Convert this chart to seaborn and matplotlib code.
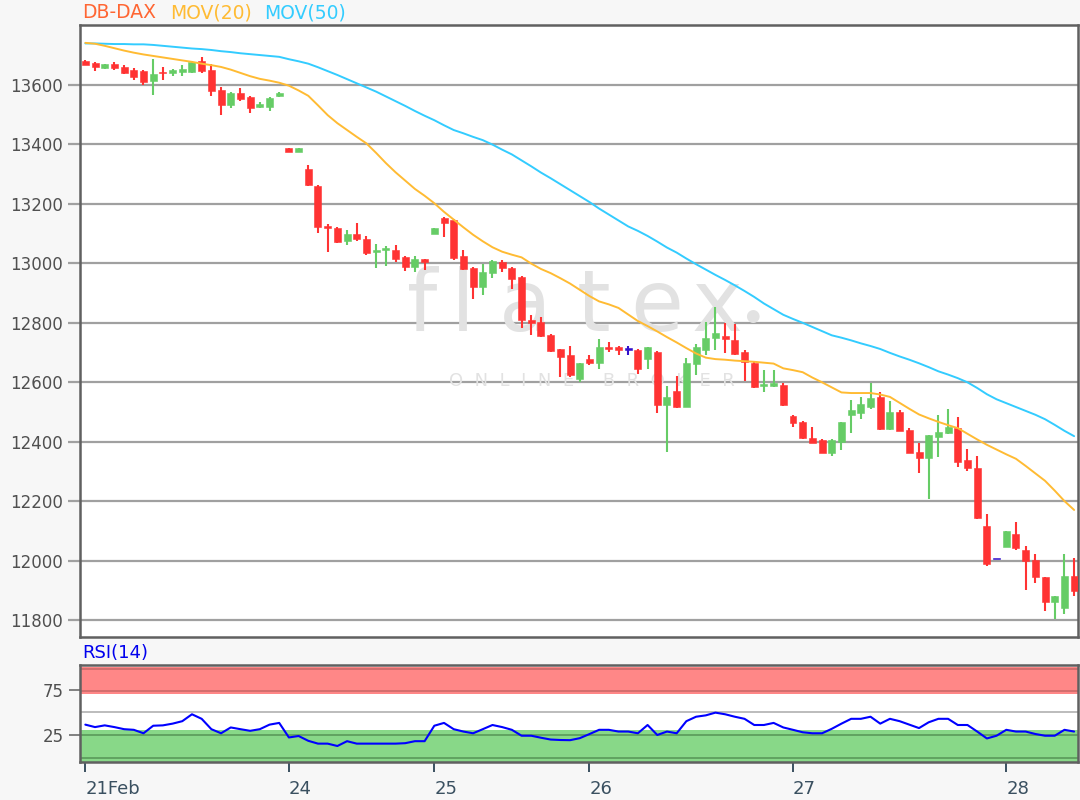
import numpy as np
import pandas as pd
import matplotlib
matplotlib.use("Agg")
import matplotlib.pyplot as plt
import seaborn as sns

# hourly-ish candles, 21 Feb - 28 Feb
opens = [13680, 13671, 13655, 13668, 13660, 13650, 13645, 13612, 13643, 13638,
         13641, 13643, 13680, 13650, 13583, 13532, 13570, 13557, 13526, 13526,
         13560, 13387, 13374, 13315, 13259, 13124, 13117, 13075, 13098, 13080,
         13036, 13044, 13044, 13019, 12988, 13012, 13097, 13150, 13144, 13024,
         12982, 12918, 12968, 13004, 12984, 12952, 12808, 12803, 12758, 12710,
         12691, 12609, 12676, 12665, 12717, 12717, 12711, 12708, 12676, 12702,
         12523, 12569, 12517, 12661, 12708, 12747, 12755, 12741, 12702, 12665,
         12588, 12587, 12590, 12486, 12467, 12413, 12405, 12363, 12400, 12489,
         12497, 12517, 12549, 12441, 12500, 12439, 12366, 12344, 12416, 12428,
         12445, 12338, 12310, 12116, 12008, 12047, 12090, 12036, 12002, 11944,
         11862, 11840, 11948]
highs = [13683, 13674, 13669, 13675, 13664, 13655, 13650, 13686, 13660, 13652,
         13664, 13680, 13692, 13669, 13590, 13575, 13589, 13560, 13540, 13558,
         13575, 13388, 13388, 13330, 13262, 13131, 13120, 13110, 13134, 13090,
         13064, 13058, 13060, 13025, 13022, 13015, 13117, 13156, 13148, 13043,
         12985, 12997, 13010, 13010, 12987, 12955, 12825, 12817, 12762, 12712,
         12720, 12663, 12690, 12744, 12733, 12722, 12720, 12712, 12718, 12705,
         12587, 12620, 12680, 12727, 12803, 12851, 12797, 12795, 12708, 12672,
         12640, 12640, 12596, 12488, 12470, 12448, 12410, 12407, 12467, 12540,
         12548, 12596, 12568, 12535, 12505, 12446, 12394, 12422, 12489, 12508,
         12482, 12374, 12351, 12157, 12008, 12100, 12131, 12049, 12022, 11946,
         11881, 12022, 12008]
lows = [13665, 13646, 13653, 13648, 13635, 13614, 13600, 13565, 13615, 13628,
        13630, 13640, 13640, 13560, 13498, 13520, 13545, 13505, 13522, 13512,
        13558, 13373, 13373, 13260, 13101, 13038, 13067, 13060, 13074, 13026,
        12983, 12990, 13004, 12974, 12970, 12978, 13097, 13089, 13010, 12978,
        12878, 12893, 12950, 12970, 12912, 12781, 12758, 12750, 12700, 12618,
        12618, 12600, 12658, 12643, 12700, 12690, 12690, 12628, 12645, 12497,
        12366, 12512, 12515, 12623, 12690, 12708, 12697, 12690, 12605, 12581,
        12568, 12584, 12520, 12450, 12408, 12394, 12360, 12350, 12372, 12430,
        12475, 12510, 12440, 12440, 12434, 12360, 12295, 12206, 12349, 12425,
        12316, 12302, 12140, 11980, 12008, 12045, 12035, 11901, 11924, 11831,
        11802, 11820, 11880]
closes = [13667, 13660, 13668, 13656, 13640, 13625, 13608, 13636, 13638, 13648,
          13653, 13677, 13645, 13578, 13532, 13570, 13552, 13521, 13536, 13554,
          13571, 13374, 13387, 13263, 13122, 13119, 13072, 13098, 13080, 13033,
          13043, 13049, 13012, 12988, 13012, 13002, 13117, 13136, 13016, 12980,
          12918, 12971, 13007, 12982, 12945, 12808, 12800, 12755, 12705, 12685,
          12624, 12663, 12664, 12717, 12710, 12707, 12711, 12643, 12717, 12523,
          12549, 12515, 12663, 12717, 12747, 12764, 12744, 12694, 12668, 12584,
          12591, 12598, 12523, 12463, 12411, 12396, 12363, 12405, 12467, 12506,
          12526, 12545, 12441, 12500, 12436, 12363, 12344, 12422, 12433, 12448,
          12332, 12310, 12142, 11988, 12008, 12099, 12041, 12000, 11946, 11862,
          11881, 11948, 11896]

ma20 = [13740, 13737, 13730, 13722, 13714, 13707, 13701, 13696, 13691, 13686,
        13681, 13676, 13670, 13665, 13659, 13650, 13639, 13628, 13619, 13613,
        13606, 13596, 13580, 13562, 13530, 13497, 13470, 13447, 13424, 13402,
        13370, 13336, 13305, 13277, 13249, 13226, 13201, 13172, 13146, 13120,
        13095, 13073, 13053, 13038, 13028, 13019, 12998, 12980, 12966, 12949,
        12931, 12910, 12889, 12871, 12861, 12849, 12827, 12805, 12788, 12770,
        12751, 12733, 12714, 12696, 12682, 12677, 12675, 12672, 12670, 12668,
        12665, 12662, 12646, 12640, 12633, 12615, 12599, 12582, 12565, 12563,
        12563, 12563, 12558, 12550, 12530, 12510, 12491, 12478, 12466, 12455,
        12445, 12426, 12407, 12389, 12373, 12357, 12342, 12318, 12293, 12268,
        12235, 12200, 12170]
ma50 = [13738, 13738, 13737, 13736, 13736, 13735, 13735, 13733, 13730, 13727,
        13724, 13721, 13719, 13716, 13712, 13709, 13705, 13702, 13699, 13696,
        13693, 13685, 13678, 13670, 13658, 13645, 13632, 13618, 13604, 13590,
        13576, 13560, 13544, 13528, 13511, 13495, 13480, 13463, 13447, 13436,
        13424, 13413, 13398, 13381, 13365, 13345, 13325, 13304, 13285, 13265,
        13245, 13225, 13205, 13183, 13163, 13143, 13123, 13108, 13091, 13072,
        13052, 13035, 13015, 12996, 12978, 12960, 12943, 12925, 12906, 12886,
        12864, 12845, 12826, 12812, 12799, 12785, 12771, 12757, 12749, 12740,
        12730, 12721, 12711, 12698, 12686, 12675, 12663, 12650, 12636, 12625,
        12613, 12599, 12580, 12559, 12542, 12529, 12516, 12503, 12490, 12475,
        12456, 12436, 12418]
rsi = [36.4, 33.7, 35.6, 33.7, 31.4, 30.7, 26.9, 35.2, 35.6, 37.5,
       40.2, 47.8, 42.8, 31.4, 26.9, 33.3, 31.4, 29.6, 31.4, 36.4,
       38.3, 22.3, 23.9, 18.6, 15.5, 15.5, 12.9, 18.2, 15.5, 15.5,
       15.5, 15.5, 15.5, 16.0, 18.2, 18.2, 35.2, 38.3, 31.4, 28.8,
       26.9, 31.4, 36.0, 33.7, 30.7, 24.2, 24.2, 22.0, 20.0, 19.5,
       19.3, 21.5, 26.0, 30.7, 30.7, 28.8, 28.8, 26.9, 36.0, 25.0,
       28.8, 26.9, 40.2, 45.1, 46.6, 49.6, 47.8, 45.1, 42.8, 36.0,
       36.0, 38.3, 33.3, 30.7, 28.0, 26.9, 26.9, 31.8, 37.5, 42.8,
       42.8, 45.1, 37.5, 42.8, 40.2, 36.4, 32.6, 39.0, 42.8, 42.8,
       36.0, 36.0, 28.8, 21.2, 24.2, 30.7, 28.8, 28.8, 26.1, 24.2,
       24.2, 30.7, 28.8]

day_ticks = [0, 21, 36, 52, 73, 95]
day_labels = ["21Feb", "24", "25", "26", "27", "28"]
price_ticks = [11800, 12000, 12200, 12400, 12600, 12800, 13000, 13200, 13400, 13600]

df = pd.DataFrame({"i": np.arange(len(opens)), "open": opens, "high": highs,
                   "low": lows, "close": closes, "ma20": ma20, "ma50": ma50, "rsi": rsi})

def candle_color(o, c):
    if c > o:
        return "#66cc66"
    if c < o:
        return "#ff3333"
    return "#3311cc"

df["color"] = [candle_color(o, c) for o, c in zip(df["open"], df["close"])]

sns.set_style("white")
plt.rcParams["font.family"] = ["DejaVu Sans"]

fig = plt.figure(figsize=(10.8, 8), dpi=100, facecolor="#f7f7f7")
W, H = 1080, 800
ax = fig.add_axes([80 / W, 1 - 637 / H, 998 / W, 612 / H])
ax2 = fig.add_axes([80 / W, 1 - 762 / H, 998 / W, 97 / H])

def fx(px):
    # pixel column -> axes fraction of the price panel
    return (px - 80) / 998

# --- price panel ---
ax.set_facecolor("white")
for yv in price_ticks:
    ax.axhline(yv, color="#a0a0a0", lw=1.6, zorder=0)

# watermark, letter by letter (it is widely spaced)
wm = "#e2e2e2"
for ch, px in zip("flatex", [422, 463, 525, 594, 657, 717]):
    ax.text(fx(px), 0.50, ch, transform=ax.transAxes, ha="center", va="baseline",
            fontsize=62, color=wm, zorder=0.5)
ax.text(fx(752), 0.525, "\u25CF", transform=ax.transAxes, ha="center", va="center",
        fontsize=12, color=wm, zorder=0.5)
ax.text(fx(592), 0.418, "O  N  L  I  N  E     B  R  O  K  E  R", transform=ax.transAxes,
        ha="center", va="center", fontsize=13, color=wm, zorder=0.5)

ax.vlines(df["i"], df["low"], df["high"], colors=df["color"], lw=1.5, zorder=2)
body_lo = np.minimum(df["open"], df["close"])
body_h = np.maximum(np.abs(df["close"] - df["open"]), 4)
ax.bar(df["i"], body_h, bottom=body_lo - np.where(df["close"] == df["open"], 2, 0),
       width=0.72, color=df["color"], edgecolor=df["color"], lw=0.4, zorder=3)

sns.lineplot(data=df, x="i", y="ma50", ax=ax, color="#33ccff", lw=1.4, zorder=4)
sns.lineplot(data=df, x="i", y="ma20", ax=ax, color="#ffbb33", lw=1.4, zorder=4)

ax.set_xlim(-0.55, 102.4)
ax.set_ylim(11743, 13800)
ax.set_yticks(price_ticks)
ax.set_yticklabels([str(v) for v in price_ticks])
ax.set_xticks([])
ax.set_xlabel("")
ax.set_ylabel("")
ax.tick_params(axis="y", length=9, width=1.6, color="#a0a0a0", labelsize=12,
               labelcolor="#505050", pad=3, left=True)
for s in ax.spines.values():
    s.set_color("#606060")
    s.set_linewidth(1.8)

fig.text(82 / W, 1 - 13 / H, "DB-DAX", color="#ff6633", fontsize=13.5, va="center")
fig.text(170 / W, 1 - 13 / H, "MOV(20)", color="#ffbb33", fontsize=13.5, va="center")
fig.text(264 / W, 1 - 13 / H, "MOV(50)", color="#33ccff", fontsize=13.5, va="center")

# --- RSI panel ---
ax2.set_facecolor("white")
ax2.axhspan(70, 100, color="#ff8787", lw=0, zorder=0)
ax2.axhspan(-6, 30, color="#88d888", lw=0, zorder=0)
ax2.axhline(98, color="#cc6a6a", lw=1.2, zorder=1)
ax2.axhline(73, color="#cc6a6a", lw=1.2, zorder=1)
ax2.axhline(50, color="#b0b0b0", lw=1.2, zorder=1)
ax2.axhline(25, color="#5a9a5a", lw=1.2, zorder=1)
ax2.axhline(0, color="#5a9a5a", lw=1.2, zorder=1)
sns.lineplot(data=df, x="i", y="rsi", ax=ax2, color="#0000ff", lw=1.5, zorder=3)
ax2.set_xlim(-0.55, 102.4)
ax2.set_ylim(-4.7, 102)
ax2.set_yticks([25, 75])
ax2.set_yticklabels(["25", "75"])
ax2.set_xticks(day_ticks)
ax2.set_xticklabels(day_labels, ha="left")
ax2.set_xlabel("")
ax2.set_ylabel("")
ax2.tick_params(axis="y", length=8, width=1.4, color="#808080", labelsize=12,
                labelcolor="#505050", left=True)
ax2.tick_params(axis="x", length=7, width=1.4, color="#3a5060", labelsize=13,
                labelcolor="#3a5060", bottom=True, pad=6)
for s in ax2.spines.values():
    s.set_color("#606060")
    s.set_linewidth(1.8)

fig.text(82 / W, 1 - 653 / H, "RSI(14)", color="#0000ee", fontsize=13, va="center")

fig.savefig("out.png", dpi=100, facecolor=fig.get_facecolor())
